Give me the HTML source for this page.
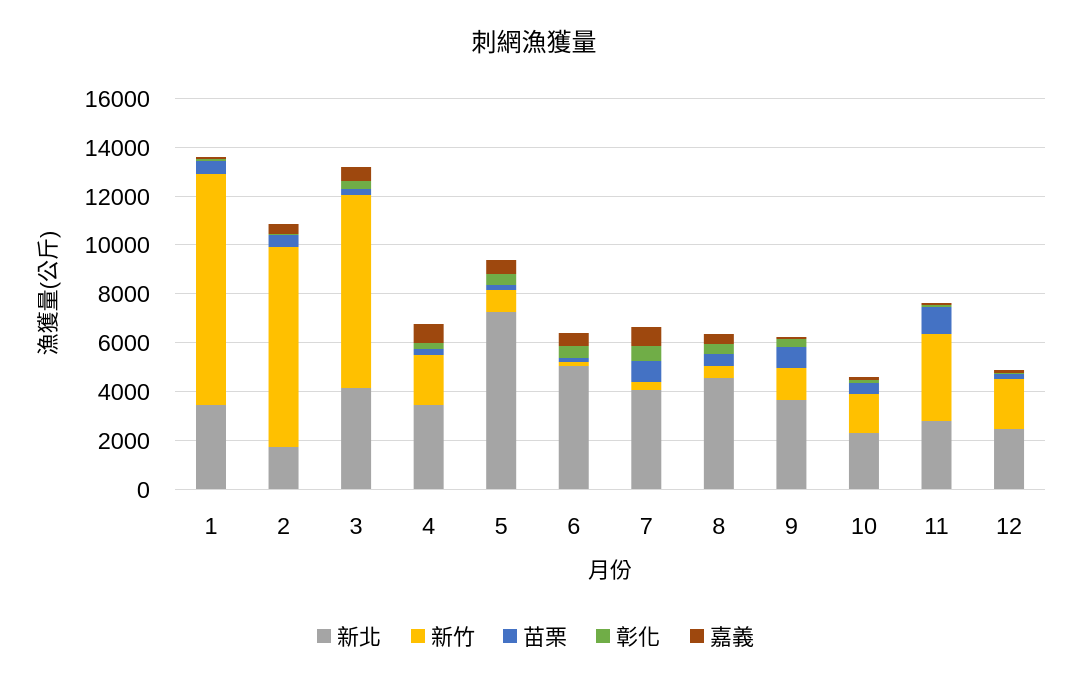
<!DOCTYPE html>
<html><head><meta charset="utf-8"><style>body{margin:0;background:#fff}svg{display:block}text{font-family:"Liberation Sans","Noto Sans CJK TC",sans-serif;fill:#000}</style></head>
<body>
<svg width="1068" height="673" xmlns="http://www.w3.org/2000/svg">
<text x="534" y="51" font-size="25" text-anchor="middle">刺網漁獲量</text>
<g stroke="#d9d9d9" stroke-width="1">
<line x1="175" x2="1045" y1="98.5" y2="98.5"/><line x1="175" x2="1045" y1="147.5" y2="147.5"/><line x1="175" x2="1045" y1="196.5" y2="196.5"/><line x1="175" x2="1045" y1="244.5" y2="244.5"/><line x1="175" x2="1045" y1="293.5" y2="293.5"/><line x1="175" x2="1045" y1="342.5" y2="342.5"/><line x1="175" x2="1045" y1="391.5" y2="391.5"/><line x1="175" x2="1045" y1="440.5" y2="440.5"/><line x1="175" x2="1045" y1="489.5" y2="489.5"/>
</g>
<g font-size="23.5" text-anchor="end">
<text x="150" y="107">16000</text><text x="150" y="156">14000</text><text x="150" y="205">12000</text><text x="150" y="253">10000</text><text x="150" y="302">8000</text><text x="150" y="351">6000</text><text x="150" y="400">4000</text><text x="150" y="449">2000</text><text x="150" y="498">0</text>
</g>
<g id="bars"></g>
<g font-size="23.5" text-anchor="middle" id="xl"></g>
<text x="610" y="578" font-size="22" text-anchor="middle">月份</text>
<text transform="translate(56,293) rotate(-90)" font-size="22" text-anchor="middle">漁獲量(公斤)</text>
<g font-size="22">
<rect x="317" y="629" width="14" height="14" fill="#A5A5A5"/><text x="337" y="645">新北</text>
<rect x="411" y="629" width="14" height="14" fill="#FFC000"/><text x="431" y="645">新竹</text>
<rect x="503" y="629" width="14" height="14" fill="#4472C4"/><text x="523" y="645">苗栗</text>
<rect x="596" y="629" width="14" height="14" fill="#70AD47"/><text x="616" y="645">彰化</text>
<rect x="690" y="629" width="14" height="14" fill="#9E480E"/><text x="710" y="645">嘉義</text>
</g>
<script>
var tops=[[405,174,161,159,157],[447,247,235,234,224],[388,195,189,181,167],[405,355,349,343,324],[312,290,285,274,260],[366,362,358,346,333],[390,382,361,346,327],[378,366,354,344,334],[400,368,347,339,337],[433,394,383,380,377],[421,334,307,305,303],[429,379,374,373,370]];
var cols=["#A5A5A5","#FFC000","#4472C4","#70AD47","#9E480E"];
var g=document.getElementById("bars"),xl=document.getElementById("xl"),ns="http://www.w3.org/2000/svg";
tops.forEach(function(t,i){var cx=211+i*72.55,prev=489;t.forEach(function(y,j){var r=document.createElementNS(ns,"rect");r.setAttribute("x",cx-15);r.setAttribute("width",30);r.setAttribute("y",y);r.setAttribute("height",prev-y);r.setAttribute("fill",cols[j]);g.appendChild(r);prev=y;});
var tx=document.createElementNS(ns,"text");tx.setAttribute("x",cx);tx.setAttribute("y",534);tx.textContent=i+1;xl.appendChild(tx);});
</script>
</svg>
</body></html>
